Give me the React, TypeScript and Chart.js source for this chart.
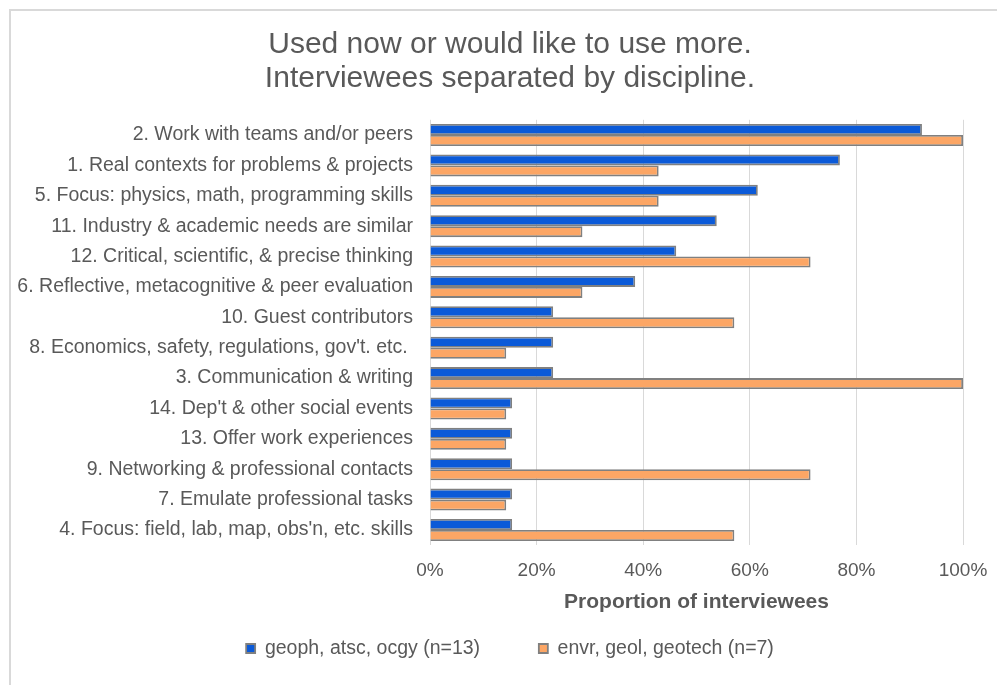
import React, { useEffect, useRef } from "react";
import { Chart, registerables } from "chart.js";

Chart.register(...registerables);

const categories: string[] = [
  "2. Work with teams and/or peers",
  "1. Real contexts for problems & projects",
  "5. Focus: physics, math, programming skills",
  "11. Industry & academic needs are similar",
  "12. Critical, scientific, & precise thinking",
  "6. Reflective, metacognitive & peer evaluation",
  "10. Guest contributors",
  "8. Economics, safety, regulations, gov't. etc. ",
  "3. Communication & writing",
  "14. Dep't & other social events",
  "13. Offer work experiences",
  "9. Networking & professional contacts",
  "7. Emulate professional tasks",
  "4. Focus: field, lab, map, obs'n, etc. skills",
];

const geophValues: number[] = [0.923, 0.769, 0.615, 0.538, 0.462, 0.385, 0.231, 0.231, 0.231, 0.154, 0.154, 0.154, 0.154, 0.154];
const envrValues: number[] = [1.0, 0.429, 0.429, 0.286, 0.714, 0.286, 0.571, 0.143, 1.0, 0.143, 0.143, 0.714, 0.143, 0.571];

const seriesLabels: string[] = ["geoph, atsc, ocgy (n=13)", "envr, geol, geotech (n=7)"];
const titleLines: string[] = ["Used now or would like to use more.", "Interviewees separated by discipline."];
const xAxisTitle = "Proportion of interviewees";

const FONT = "'Liberation Sans', Arial, sans-serif";
const TEXT = "#595959";

export default function App() {
  const ref = useRef<HTMLCanvasElement | null>(null);
  useEffect(() => {
    if (!ref.current) return;
    const chart = new Chart(ref.current, {
      type: "bar",
      data: {
        labels: categories,
        datasets: [
          {
            label: seriesLabels[0],
            data: geophValues,
            backgroundColor: "#0B5AD8",
            borderColor: "#808080",
            borderWidth: 1.8,
            categoryPercentage: 0.724,
            barPercentage: 1.0,
          },
          {
            label: seriesLabels[1],
            data: envrValues,
            backgroundColor: "#FCA665",
            borderColor: "#808080",
            borderWidth: 1.8,
            categoryPercentage: 0.724,
            barPercentage: 1.0,
          },
        ],
      },
      options: {
        indexAxis: "y",
        animation: false,
        responsive: false,
        maintainAspectRatio: false,
        layout: { padding: { left: 57, right: 34, top: 0, bottom: 16.75 } },
        plugins: {
          title: {
            display: true,
            text: titleLines,
            color: TEXT,
            font: { family: FONT, size: 30, weight: "normal", lineHeight: 34 / 30 },
            padding: { top: 27.6, bottom: 24.2 },
          },
          legend: {
            position: "bottom",
            labels: {
              color: TEXT,
              font: { family: FONT, size: 19.5 },
              boxWidth: 9,
              boxHeight: 9,
              padding: 10,
              generateLabels: (c: any) => {
                const items = Chart.defaults.plugins.legend.labels.generateLabels(c);
                if (items[0]) items[0].text = items[0].text + "         ";
                return items;
              },
            },
          },
          tooltip: { enabled: false },
        },
        scales: {
          x: {
            min: 0,
            max: 1,
            ticks: {
              stepSize: 0.2,
              color: TEXT,
              font: { family: FONT, size: 19, lineHeight: 40.4 / 19 },
              padding: 5,
              callback: (v: any) => Math.round(Number(v) * 100) + "%",
            },
            grid: { color: "#d9d9d9", lineWidth: 1, drawTicks: false },
            border: { display: false },
            title: {
              display: true,
              text: xAxisTitle,
              color: TEXT,
              font: { family: FONT, size: 21, weight: "bold", lineHeight: 1.2 },
              padding: { top: -5.5, bottom: 13.45 },
            },
          },
          y: {
            ticks: {
              color: TEXT,
              font: { family: FONT, size: 19.5 },
              padding: 17,
              autoSkip: false,
            },
            grid: { display: false, drawTicks: false },
            border: { display: false },
            afterFit: (s: any) => {
              s.width = 373;
              s._computeLabelArea = () => undefined;
            },
          },
        },
      },
    });
    return () => chart.destroy();
  }, []);

  return (
    <div style={{ position: "fixed", left: 0, top: 0, width: 997, height: 685, background: "#fff", overflow: "hidden" }}>
      <div
        style={{
          position: "absolute",
          left: 9,
          top: 9,
          width: 1000,
          height: 700,
          borderLeft: "2px solid #d9d9d9",
          borderTop: "2px solid #d9d9d9",
        }}
      />
      <canvas ref={ref} width={997} height={685} style={{ position: "absolute", left: 0, top: 0 }} />
    </div>
  );
}
